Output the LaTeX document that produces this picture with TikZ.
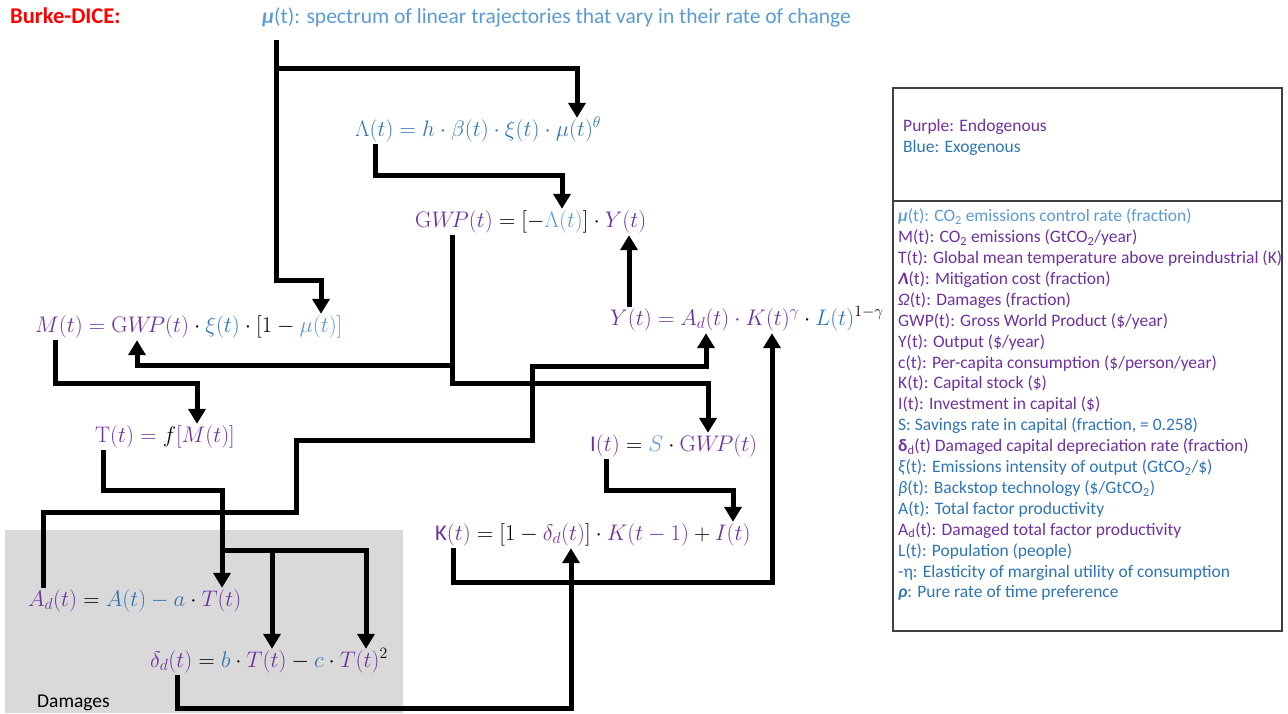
\RequirePackage{fix-cm}
\documentclass[tikz,border=0pt]{standalone}
\usepackage[no-math]{fontspec}
\setmainfont{Carlito}
\usetikzlibrary{arrows.meta}
\definecolor{cPur}{HTML}{7030A0}
\definecolor{cBlue}{HTML}{2E75B6}
\definecolor{cLBlue}{HTML}{5B9BD5}
\definecolor{cRed}{HTML}{FF0000}
\definecolor{cGray}{HTML}{D9D9D9}
\definecolor{cBox}{HTML}{404040}
\tikzset{
  eq/.style={anchor=west, inner xsep=0pt, inner ysep=2pt, text height=16pt, text depth=6pt, font=\fontsize{22.5}{26}\selectfont},
  leg/.style={anchor=base west, inner sep=0pt, font=\fontsize{17.5}{21}\selectfont},
  wire/.style={line width=5pt, line join=miter, draw=black},
  conn/.style={wire, -{Triangle[width=17pt,length=15pt]}},
}
\begin{document}
\begin{tikzpicture}[x=1pt,y=-1pt]
\useasboundingbox (0,0) rectangle (1288,713);
% damages area
\fill[cGray] (5,530) rectangle (403,713);
\node[anchor=base west, inner sep=0pt, font=\fontsize{19.5}{22}\selectfont] (dmg) at (37,707) {Damages};
% titles
\node[anchor=base west, inner sep=0pt, text=cRed, font=\bfseries\fontsize{22.5}{26}\selectfont] (title) at (10,23) {Burke-DICE:};
\node[anchor=base west, inner sep=0pt, text=cLBlue, font=\fontsize{21.5}{26}\selectfont] (mu) at (262,23) {\textbf{\textit{μ}}(t): spectrum of linear trajectories that vary in their rate of change};
% equations
\node[eq, text=cBlue] (lam) at (355,131) {$\Lambda(t) = h\cdot\beta(t)\cdot\xi(t)\cdot\mu(t)^{\theta}$};
\node[eq] (gwp) at (415,222) {$\color{cPur}\mathrm{G}W\!P(t)\color{black} = [-\color{cLBlue}\Lambda(t)\color{black}]\cdot\color{cPur}Y(t)$};
\node[eq] (M) at (35,327) {$\color{cPur}M(t) = \mathrm{G}W\!P(t)\color{black}\cdot\color{cBlue}\xi(t)\color{black}\cdot[1-\color{cLBlue}\mu(t)]$};
\node[eq] (Y) at (610,320) {$\color{cPur}Y(t) = A_d(t)\cdot K(t)^{\gamma}\color{black}\cdot\color{cBlue}L(t)^{\color{black}1-\gamma}$};
\node[eq] (T) at (95,437) {$\color{cPur}\mathrm{T}(t) = \color{black}f\color{cPur}[M(t)]$};
\node[eq] (I) at (590,446) {$\color{cPur}\mbox{I}(t)\color{black} = \color{cLBlue}S\color{black}\cdot\color{cPur}\mathrm{G}W\!P(t)$};
\node[eq] (K) at (435,535) {$\color{cPur}\mbox{K}(t)\color{black} = [1-\color{cPur}\delta_d(t)\color{black}]\cdot\color{cPur}K(t-1)\color{black}+\color{cPur}I(t)$};
\node[eq] (Ad) at (28,601) {$\color{cPur}A_d(t)\color{black} = \color{cBlue}A(t)-a\color{black}\cdot\color{cPur}T(t)$};
\node[eq] (dd) at (150,662) {$\color{cPur}\delta_d(t)\color{black} = \color{cBlue}b\color{black}\cdot\color{cPur}T(t)\color{black}-\color{cBlue}c\color{black}\cdot\color{cPur}T(t)^{\color{black}2}$};
% connectors
\coordinate (muport) at (276,40);
\draw[conn] (muport) -- (276,280) -| (M.north -| 321,0);
\draw[conn] (276,68) -| (lam.north -| 577,0);
\draw[conn] (lam.south -| 375,0) -- (375,175) -| (gwp.north -| 562,0);
\draw[conn] (Y.north -| 629,0) -- (gwp.south -| 629,0);
\draw[conn] (gwp.south -| 452,0) -- (452,365) -| (M.south -| 137,0);
\draw[conn] (452,365) -- (452,383) -| (I.north -| 708,0);
\draw[conn] (M.south -| 55,0) -- (55,383) -| (T.north -| 197,0);
\draw[conn] (Ad.north -| 43,0) -- (43,512) -| (296,440) -| (532,366) -| (Y.south -| 706,0);
\draw[conn] (T.south -| 103,0) -- (103,490) -| (Ad.north -| 222,0);
\draw[conn] (222,550) -| (dd.north -| 366,0);
\draw[conn] (272,550) -- (dd.north -| 272,0);
\draw[conn] (I.south -| 606,0) -- (606,490) -| (K.north -| 733,0);
\draw[conn] (K.south -| 453,0) -- (453,582) -| (Y.south -| 772,0);
\draw[conn] (dd.south -| 177,0) -- (177,708) -| (K.south -| 571,0);
% legend box
\draw[cBox, line width=1.8pt] (893,88) rectangle (1282,631);
\draw[cBox, line width=1.8pt] (893,201) -- (1282,201);
\node[leg, text=cPur] (endo) at (903,131) {Purple: Endogenous};
\node[leg, text=cBlue] (exo) at (903,152) {Blue: Exogenous};
\node[leg, text=cLBlue] (l0) at (898,221.7) {\textbf{\textit{μ}}(t): CO\textsubscript{2} emissions control rate (fraction)};
\node[leg, text=cPur] (l1) at (898,242.6) {M(t): CO\textsubscript{2} emissions (GtCO\textsubscript{2}/year)};
\node[leg, text=cPur] (l2) at (898,263.5) {T(t): Global mean temperature above preindustrial (K)};
\node[leg, text=cPur] (l3) at (898,284.4) {\textbf{\textit{Λ}}(t): Mitigation cost (fraction)};
\node[leg, text=cPur] (l4) at (898,305.3) {\textit{Ω}(t): Damages (fraction)};
\node[leg, text=cPur] (l5) at (898,326.2) {GWP(t): Gross World Product (\$/year)};
\node[leg, text=cPur] (l6) at (898,347.1) {Y(t): Output (\$/year)};
\node[leg, text=cPur] (l7) at (898,368.0) {c(t): Per-capita consumption (\$/person/year)};
\node[leg, text=cPur] (l8) at (898,388.9) {K(t): Capital stock (\$)};
\node[leg, text=cPur] (l9) at (898,409.8) {I(t): Investment in capital (\$)};
\node[leg, text=cBlue] (l10) at (898,430.7) {S: Savings rate in capital (fraction, = 0.258)};
\node[leg, text=cPur] (l11) at (898,451.6) {\textbf{δ}\textsubscript{d}(t) Damaged capital depreciation rate (fraction)};
\node[leg, text=cBlue] (l12) at (898,472.5) {\textit{ξ}(t): Emissions intensity of output (GtCO\textsubscript{2}/\$)};
\node[leg, text=cBlue] (l13) at (898,493.4) {\textit{β}(t): Backstop technology (\$/GtCO\textsubscript{2})};
\node[leg, text=cBlue] (l14) at (898,514.3) {A(t): Total factor productivity};
\node[leg, text=cPur] (l15) at (898,535.2) {A\textsubscript{d}(t): Damaged total factor productivity};
\node[leg, text=cBlue] (l16) at (898,556.1) {L(t): Population (people)};
\node[leg, text=cBlue] (l17) at (898,577.0) {-η: Elasticity of marginal utility of consumption};
\node[leg, text=cBlue] (l18) at (898,597.9) {\textbf{\textit{ρ}}: Pure rate of time preference};
\end{tikzpicture}
\end{document}
